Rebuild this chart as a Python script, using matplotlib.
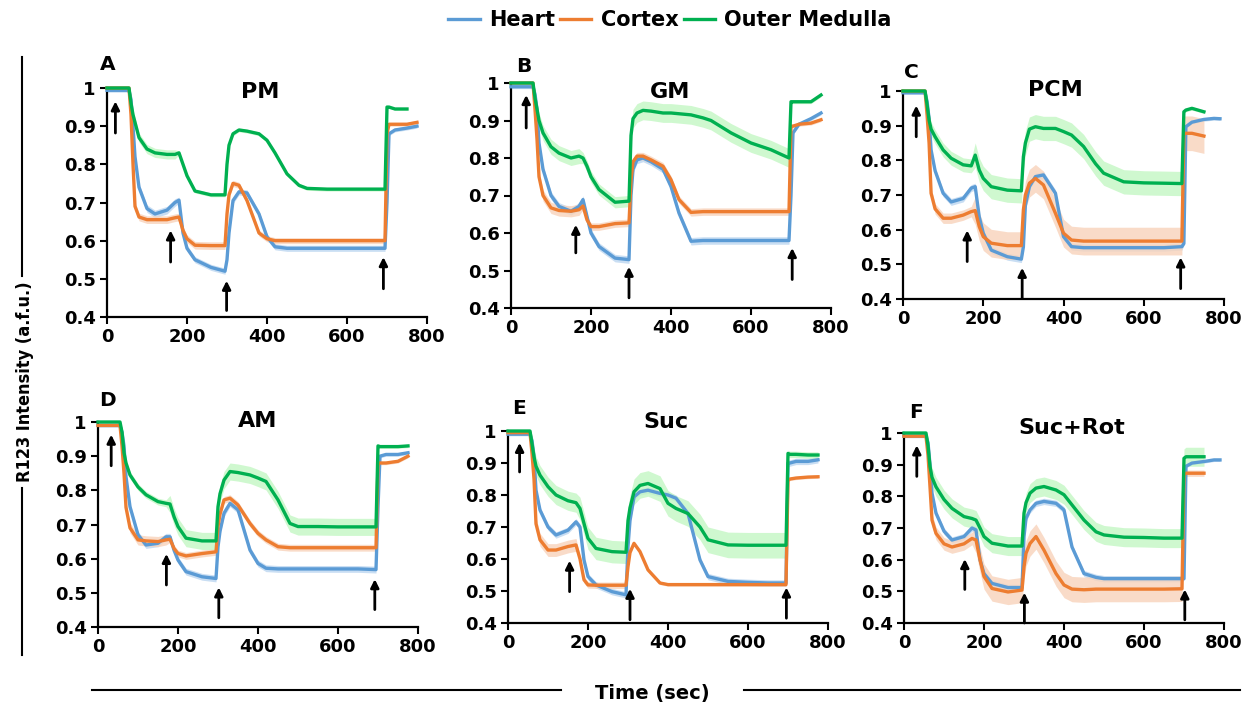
import numpy as np
import matplotlib
matplotlib.use("Agg")
import matplotlib.pyplot as plt
from matplotlib.lines import Line2D

nan = np.nan
W, H = 1250, 709

# ---------------- data ----------------
time_s = [0, 55, 60, 65, 70, 80, 100, 120, 150, 170, 180, 190, 200, 220, 260, 295,
          300, 305, 315, 330, 350, 380, 400, 420, 450, 480, 500, 550, 600, 650, 695,
          700, 705, 720, 750, 775, 790]

series_names = ["Heart", "Cortex", "Outer Medulla"]
panel_letters = ["A", "B", "C", "D", "E", "F"]
panel_titles = ["PM", "GM", "PCM", "AM", "Suc", "Suc+Rot"]

pm_heart = [0.994, 0.994, 0.97, 0.90, 0.82, 0.74, 0.684, 0.67, 0.68, 0.70, 0.706, 0.62, 0.58, 0.55, 0.53, 0.52,
            0.55, 0.62, 0.705, 0.728, 0.725, 0.67, 0.61, 0.584, 0.58, 0.58, 0.58, 0.58, 0.58, 0.58, 0.58,
            0.70, 0.88, 0.89, 0.895, 0.90, nan]
pm_cortex = [1.0, 1.0, 0.93, 0.80, 0.69, 0.662, 0.655, 0.655, 0.655, 0.66, 0.662, 0.627, 0.605, 0.588, 0.587, 0.587,
             0.67, 0.72, 0.75, 0.745, 0.705, 0.62, 0.605, 0.60, 0.60, 0.60, 0.60, 0.60, 0.60, 0.60, 0.60,
             0.88, 0.905, 0.905, 0.905, 0.91, nan]
pm_medulla = [1.0, 1.0, 0.96, 0.93, 0.91, 0.87, 0.84, 0.83, 0.826, 0.826, 0.83, 0.80, 0.77, 0.73, 0.72, 0.72,
              0.80, 0.85, 0.88, 0.89, 0.887, 0.88, 0.863, 0.83, 0.775, 0.745, 0.737, 0.735, 0.735, 0.735, 0.735,
              0.95, 0.95, 0.945, 0.945, nan, nan]

gm_heart = [0.99, 0.99, 0.97, 0.93, 0.84, 0.77, 0.70, 0.671, 0.658, 0.671, 0.689, 0.644, 0.60, 0.564, 0.533, 0.529,
            0.70, 0.77, 0.795, 0.80, 0.79, 0.77, 0.724, 0.653, 0.578, 0.58, 0.58, 0.58, 0.58, 0.58, 0.58,
            0.70, 0.867, 0.89, 0.905, 0.92, nan]
gm_cortex = [1.0, 1.0, 0.93, 0.85, 0.75, 0.70, 0.667, 0.66, 0.658, 0.662, 0.672, 0.635, 0.617, 0.617, 0.625, 0.627,
             0.74, 0.79, 0.805, 0.805, 0.795, 0.778, 0.742, 0.689, 0.655, 0.657, 0.657, 0.657, 0.657, 0.657, 0.657,
             0.885, 0.885, 0.89, 0.893, 0.902, nan]
gm_medulla = [1.0, 1.0, 0.96, 0.93, 0.90, 0.867, 0.83, 0.813, 0.80, 0.805, 0.80, 0.778, 0.75, 0.716, 0.682, 0.685,
              0.86, 0.905, 0.92, 0.927, 0.925, 0.92, 0.92, 0.918, 0.915, 0.907, 0.90, 0.867, 0.84, 0.822, 0.80,
              0.95, 0.95, 0.95, 0.95, 0.968, nan]

pcm_heart = [0.995, 0.995, 0.97, 0.92, 0.83, 0.77, 0.705, 0.68, 0.69, 0.72, 0.724, 0.637, 0.59, 0.541, 0.522, 0.515,
             0.55, 0.67, 0.724, 0.753, 0.758, 0.705, 0.58, 0.551, 0.548, 0.548, 0.548, 0.548, 0.548, 0.548, 0.551,
             0.56, 0.897, 0.91, 0.918, 0.921, 0.92]
pcm_cortex = [1.0, 1.0, 0.93, 0.85, 0.705, 0.66, 0.633, 0.633, 0.642, 0.652, 0.655, 0.609, 0.58, 0.561, 0.554, 0.554,
              0.657, 0.70, 0.734, 0.748, 0.729, 0.647, 0.59, 0.57, 0.567, 0.567, 0.567, 0.567, 0.567, 0.567, 0.567,
              0.878, 0.878, 0.878, 0.87, nan, nan]
pcm_medulla = [1.0, 1.0, 0.96, 0.916, 0.89, 0.868, 0.83, 0.806, 0.787, 0.784, 0.815, 0.772, 0.748, 0.724, 0.714, 0.712,
               0.81, 0.85, 0.89, 0.897, 0.892, 0.892, 0.883, 0.873, 0.84, 0.79, 0.763, 0.738, 0.735, 0.734, 0.733,
               0.94, 0.945, 0.95, 0.94, nan, nan]

am_heart = [0.99, 0.99, 0.97, 0.93, 0.84, 0.752, 0.67, 0.64, 0.645, 0.664, 0.664, 0.625, 0.596, 0.562, 0.547, 0.542,
            0.635, 0.68, 0.733, 0.762, 0.743, 0.625, 0.586, 0.572, 0.57, 0.57, 0.57, 0.57, 0.57, 0.57, 0.568,
            0.75, 0.90, 0.905, 0.905, 0.91, nan]
am_cortex = [0.99, 0.99, 0.93, 0.85, 0.75, 0.69, 0.655, 0.652, 0.65, 0.655, 0.657, 0.63, 0.615, 0.608, 0.615, 0.62,
             0.694, 0.73, 0.772, 0.777, 0.757, 0.703, 0.674, 0.655, 0.635, 0.632, 0.632, 0.632, 0.632, 0.632, 0.632,
             0.88, 0.88, 0.88, 0.885, 0.90, nan]
am_medulla = [1.0, 1.0, 0.97, 0.91, 0.88, 0.845, 0.81, 0.787, 0.767, 0.762, 0.76, 0.723, 0.694, 0.66, 0.652, 0.652,
              0.752, 0.79, 0.83, 0.855, 0.852, 0.845, 0.836, 0.826, 0.772, 0.703, 0.694, 0.694, 0.693, 0.693, 0.693,
              0.93, 0.928, 0.928, 0.928, 0.93, nan]

suc_heart = [0.99, 0.99, 0.97, 0.92, 0.815, 0.753, 0.70, 0.675, 0.69, 0.716, 0.70, 0.597, 0.545, 0.519, 0.498, 0.488,
             0.639, 0.72, 0.794, 0.81, 0.815, 0.805, 0.80, 0.79, 0.742, 0.597, 0.545, 0.53, 0.527, 0.525, 0.525,
             0.90, 0.90, 0.905, 0.905, 0.91, nan]
suc_cortex = [0.995, 0.995, 0.93, 0.85, 0.71, 0.66, 0.628, 0.628, 0.639, 0.644, 0.60, 0.535, 0.519, 0.518, 0.518, 0.518,
              0.576, 0.62, 0.649, 0.623, 0.566, 0.525, 0.52, 0.52, 0.52, 0.52, 0.52, 0.52, 0.52, 0.52, 0.52,
              0.846, 0.85, 0.853, 0.856, 0.857, nan]
suc_medulla = [1.0, 1.0, 0.96, 0.919, 0.89, 0.862, 0.826, 0.80, 0.782, 0.776, 0.758, 0.711, 0.665, 0.633, 0.623, 0.621,
               0.72, 0.76, 0.81, 0.83, 0.836, 0.82, 0.774, 0.758, 0.742, 0.70, 0.66, 0.644, 0.643, 0.643, 0.643,
               0.93, 0.927, 0.927, 0.925, 0.925, nan]

sr_heart = [0.99, 0.99, 0.97, 0.90, 0.81, 0.747, 0.69, 0.662, 0.673, 0.70, 0.694, 0.60, 0.556, 0.525, 0.512, 0.512,
            0.673, 0.73, 0.757, 0.778, 0.784, 0.778, 0.757, 0.64, 0.556, 0.544, 0.54, 0.54, 0.54, 0.54, 0.54,
            0.54, 0.895, 0.905, 0.91, 0.915, 0.915]
sr_cortex = [0.99, 0.99, 0.93, 0.83, 0.725, 0.683, 0.65, 0.64, 0.65, 0.667, 0.662, 0.60, 0.547, 0.509, 0.498, 0.504,
             0.577, 0.62, 0.651, 0.673, 0.63, 0.556, 0.52, 0.507, 0.505, 0.507, 0.507, 0.507, 0.507, 0.507, 0.508,
             0.868, 0.873, 0.873, 0.873, nan, nan]
sr_medulla = [1.0, 1.0, 0.96, 0.894, 0.86, 0.83, 0.79, 0.762, 0.736, 0.73, 0.725, 0.70, 0.673, 0.652, 0.643, 0.643,
              0.747, 0.78, 0.81, 0.826, 0.831, 0.82, 0.805, 0.773, 0.725, 0.688, 0.678, 0.671, 0.67, 0.668, 0.668,
              0.92, 0.925, 0.925, 0.925, nan, nan]

# spread (half-width of shaded band) per protocol phase: before 60 s, 60-180, 180-300, 300-700, after 700
phase_edges = [60, 180, 300, 700]
pm_sd = [[0.005, 0.01, 0.008, 0.008, 0.005], [0.0, 0.01, 0.01, 0.008, 0.005], [0.0, 0.012, 0.005, 0.005, 0.003]]
gm_sd = [[0.005, 0.01, 0.01, 0.01, 0.005], [0.0, 0.015, 0.01, 0.01, 0.005], [0.0, 0.02, 0.015, 0.025, 0.005]]
pcm_sd = [[0.005, 0.01, 0.01, 0.01, 0.005], [0.0, 0.015, 0.04, 0.04, 0.05], [0.0, 0.02, 0.035, 0.035, 0.005]]
am_sd = [[0.005, 0.01, 0.01, 0.01, 0.005], [0.0, 0.015, 0.01, 0.01, 0.005], [0.0, 0.01, 0.025, 0.025, 0.005]]
suc_sd = [[0.005, 0.01, 0.01, 0.01, 0.01], [0.0, 0.02, 0.01, 0.005, 0.005], [0.0, 0.03, 0.035, 0.04, 0.01]]
sr_sd = [[0.005, 0.01, 0.01, 0.01, 0.005], [0.0, 0.02, 0.04, 0.04, 0.01], [0.0, 0.03, 0.03, 0.03, 0.03]]

# arrows: time, bottom, top
pm_arrows = [(21, 0.882, 0.965), (159, 0.544, 0.627), (299, 0.417, 0.495), (691, 0.474, 0.557)]
gm_arrows = [(38, 0.88, 0.968), (162, 0.547, 0.622), (295, 0.427, 0.51), (703, 0.476, 0.56)]
pcm_arrows = [(33, 0.868, 0.958), (160, 0.508, 0.598), (297, 0.402, 0.49), (692, 0.43, 0.52)]
am_arrows = [(33, 0.872, 0.963), (171, 0.523, 0.614), (302, 0.427, 0.516), (692, 0.451, 0.54)]
suc_arrows = [(29, 0.872, 0.963), (154, 0.498, 0.595), (305, 0.41, 0.507), (696, 0.415, 0.511)]
sr_arrows = [(32, 0.863, 0.961), (152, 0.506, 0.602), (301, 0.40, 0.496), (702, 0.41, 0.506)]

xticks = [0, 200, 400, 600, 800]
yticks = [0.4, 0.5, 0.6, 0.7, 0.8, 0.9, 1.0]
ytick_labels = ["0.4", "0.5", "0.6", "0.7", "0.8", "0.9", "1"]

# ---------------- styling / layout ----------------
line_colors = ["#5B9BD5", "#ED7D31", "#00B050"]
band_colors = ["#bcd6f0", "#f8d3bb", "#c3f7c3"]

# axes boxes in pixels: left, right, top, bottom
boxes = [(107, 427, 88, 317), (511, 831, 83, 308), (903, 1224, 91, 299),
         (98, 418, 422, 627), (508, 828, 431, 623), (904, 1224, 433, 623)]
letter_pos = [(108, 64), (524, 67), (911, 72), (107, 400), (519, 408), (916, 412)]
title_pos = [(260, 92), (670, 92), (1055, 90), (258, 421), (666, 422), (1072, 428)]

panel_data = [(pm_heart, pm_cortex, pm_medulla), (gm_heart, gm_cortex, gm_medulla),
              (pcm_heart, pcm_cortex, pcm_medulla), (am_heart, am_cortex, am_medulla),
              (suc_heart, suc_cortex, suc_medulla), (sr_heart, sr_cortex, sr_medulla)]
panel_sd = [pm_sd, gm_sd, pcm_sd, am_sd, suc_sd, sr_sd]
panel_arrows = [pm_arrows, gm_arrows, pcm_arrows, am_arrows, suc_arrows, sr_arrows]

BOLD = "bold"
fig = plt.figure(figsize=(W / 100, H / 100), dpi=100)


def fx(x):
    return x / W


def fy(y):
    return 1 - y / H


t = np.array(time_s, dtype=float)
phase_idx = np.searchsorted(phase_edges, t, side="right")

for i in range(6):
    l, r, tp, b = boxes[i]
    ax = fig.add_axes([fx(l), fy(b), (r - l) / W, (b - tp) / H])
    ax.set_xlim(0, 800)
    ax.set_ylim(0.4, 1.0)
    for s in ["top", "right"]:
        ax.spines[s].set_visible(False)
    for s in ["left", "bottom"]:
        ax.spines[s].set_linewidth(1.6)
    ax.set_xticks(xticks)
    ax.set_yticks(yticks)
    ax.set_yticklabels(ytick_labels)
    ax.tick_params(direction="out", length=5, width=1.5, labelsize=13, pad=3)
    for lab in ax.get_xticklabels() + ax.get_yticklabels():
        lab.set_fontweight(BOLD)
    ax.patch.set_alpha(0)

    vals = [np.array(v, dtype=float) for v in panel_data[i]]
    for k in range(3):
        sd = np.array(panel_sd[i][k])[phase_idx]
        ok = ~np.isnan(vals[k])
        ax.fill_between(t, vals[k] - sd, vals[k] + sd, where=ok, color=band_colors[k],
                        alpha=0.8, linewidth=0, clip_on=False, zorder=1)
    for k in range(3):
        ax.plot(t, vals[k], color=line_colors[k], lw=2.4, clip_on=False, zorder=3 + k,
                solid_joinstyle="round")
    for (ta, yb, ytop) in panel_arrows[i]:
        ax.annotate("", xy=(ta, ytop), xytext=(ta, yb),
                    arrowprops=dict(arrowstyle="-|>", color="black", lw=2.0, mutation_scale=12,
                                    shrinkA=0, shrinkB=0),
                    annotation_clip=False, zorder=10)

    fig.text(fx(letter_pos[i][0]), fy(letter_pos[i][1]), panel_letters[i], ha="center", va="center",
             fontsize=14.5, fontweight=BOLD)
    fig.text(fx(title_pos[i][0]), fy(title_pos[i][1]), panel_titles[i], ha="center", va="center",
             fontsize=16, fontweight=BOLD)

# legend
handles = [Line2D([0], [0], color=c, lw=2.4) for c in line_colors]
fig.legend(handles, series_names, loc="center", bbox_to_anchor=(fx(670), fy(20)), ncol=3,
           frameon=False, handlelength=1.5, handletextpad=0.45, columnspacing=0.25,
           prop=dict(size=15, weight=BOLD), borderaxespad=0, borderpad=0)

# y axis title with decorative rules that stop at the text
ylab = fig.text(fx(25), fy(382), "R123 Intensity (a.f.u.)", rotation=90, ha="center", va="center",
                fontsize=13, fontweight=BOLD, fontstretch="condensed")
fig.canvas.draw()
bb = ylab.get_window_extent(renderer=fig.canvas.get_renderer())
top_px = H - bb.y1
bot_px = H - bb.y0
fig.add_artist(Line2D([fx(22), fx(22)], [fy(57), fy(top_px - 6)], color="black", lw=1.5))
fig.add_artist(Line2D([fx(22), fx(22)], [fy(bot_px + 6), fy(655)], color="black", lw=1.5))

fig.text(fx(652), fy(693), "Time (sec)", ha="center", va="center", fontsize=14, fontweight=BOLD)
fig.add_artist(Line2D([fx(92), fx(561)], [fy(690), fy(690)], color="black", lw=1.5))
fig.add_artist(Line2D([fx(744), fx(1240)], [fy(690), fy(690)], color="black", lw=1.5))

fig.savefig("out.png", dpi=100)
